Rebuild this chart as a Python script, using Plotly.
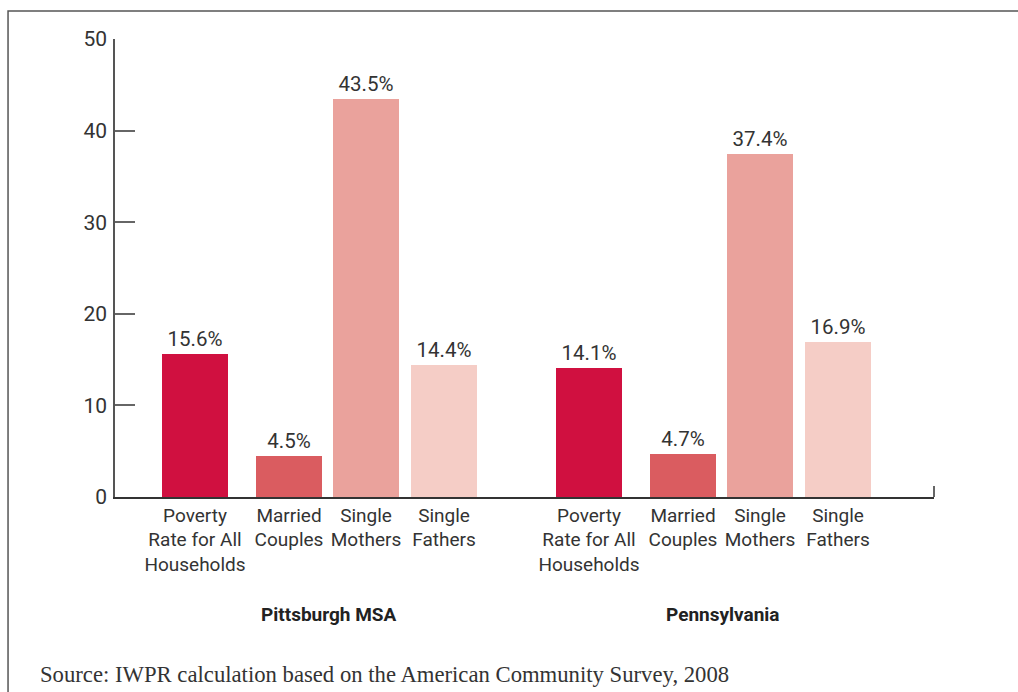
import plotly.graph_objects as go

# ---- data ----
regions = ["Pittsburgh MSA", "Pennsylvania"]
categories = ["Poverty<br>Rate for All<br>Households", "Married<br>Couples",
              "Single<br>Mothers", "Single<br>Fathers"]
pittsburgh = [15.6, 4.5, 43.5, 14.4]
pennsylvania = [14.1, 4.7, 37.4, 16.9]
y_ticks = [0, 10, 20, 30, 40, 50]
source_note = "Source: IWPR calculation based on the American Community Survey, 2008"

# ---- styling / layout constants ----
colors = ["#d01040", "#da5c60", "#eaa29c", "#f5cdc6"]
slot_offsets = [0, 94, 171, 249]      # within-group bar centre offsets (axis units)
group_start = 80
group_step = 394
bar_width = 66
narrow = "Roboto, Liberation Sans, sans-serif"

fig = go.Figure()
tickvals, ticktext, group_centers = [], [], []
for gi, (region, vals) in enumerate(zip(regions, [pittsburgh, pennsylvania])):
    xs = [group_start + gi * group_step + o for o in slot_offsets]
    tickvals += xs
    ticktext += categories
    group_centers.append((xs[0] + xs[-1]) / 2)
    fig.add_trace(go.Bar(
        x=xs, y=vals, width=bar_width,
        marker=dict(color=colors, line=dict(width=0)),
        text=[f"{v:.1f}%" for v in vals],
        textposition="outside",
        textfont=dict(family=narrow, size=20.5, color="#333333"),
        cliponaxis=False, showlegend=False, name=region,
        hoverinfo="skip",
    ))

for region, cx in zip(regions, group_centers):
    fig.add_annotation(x=cx + 9, xref="x", y=-0.2576, yref="paper",
                       text=f"<b>{region}</b>", showarrow=False,
                       font=dict(family=narrow, size=19, color="#222222"),
                       xanchor="center", yanchor="middle")

fig.add_annotation(x=-0.0935, xref="paper", y=-0.3886, yref="paper",
                   text=source_note, showarrow=False, xanchor="left", yanchor="middle",
                   font=dict(family="Liberation Serif, Times New Roman, serif", size=22.7,
                             color="#333333"))

# frame around the figure (cropped at right/bottom)
fig.add_shape(type="rect", xref="paper", yref="paper",
              x0=-0.1306, x1=1.3, y0=-0.7, y1=1.0611,
              line=dict(color="#555555", width=1.5), fillcolor="rgba(0,0,0,0)", layer="below")
# small end tick at right of x axis
fig.add_shape(type="line", xref="paper", yref="paper", x0=1, x1=1, y0=0, y1=0.024,
              line=dict(color="#333333", width=1.5))

fig.update_layout(
    width=1018, height=692,
    margin=dict(l=115, r=84, t=39, b=195),
    paper_bgcolor="white", plot_bgcolor="white",
    bargap=0,
    xaxis=dict(range=[0, 819], tickvals=tickvals, ticktext=ticktext,
               showline=True, linecolor="#333333", linewidth=1.5,
               ticks="", showgrid=False, zeroline=False,
               tickfont=dict(family=narrow, size=19, color="#333333")),
    yaxis=dict(range=[0, 50], tickvals=y_ticks,
               showline=True, linecolor="#555555", linewidth=1.5,
               ticks="inside", ticklen=20, tickcolor="#666666", tickwidth=1.5,
               showgrid=False, zeroline=False, ticklabelstandoff=2,
               tickfont=dict(family=narrow, size=21, color="#333333")),
)

fig.write_html("out.html", config={"displayModeBar": False},
               post_script="document.body.style.margin='0';document.body.style.overflow='hidden';")
